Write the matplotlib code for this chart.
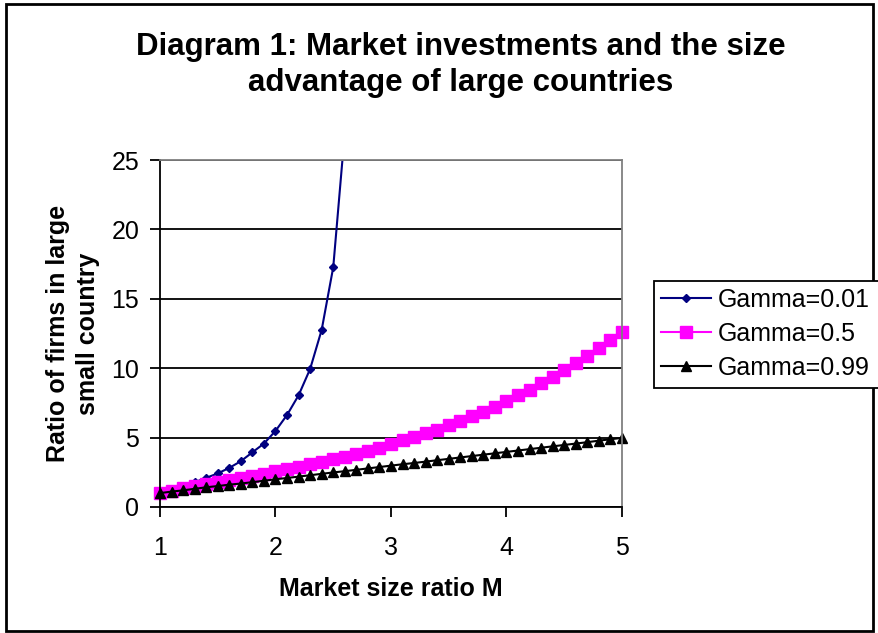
import matplotlib.pyplot as plt
from matplotlib.patches import Rectangle

plt.rcParams['font.family'] = ['Liberation Sans', 'DejaVu Sans']

# Datos
ratio_m = [1.0, 1.1, 1.2, 1.3, 1.4, 1.5, 1.6, 1.7, 1.8, 1.9,
           2.0, 2.1, 2.2, 2.3, 2.4, 2.5, 2.6, 2.7, 2.8, 2.9,
           3.0, 3.1, 3.2, 3.3, 3.4, 3.5, 3.6, 3.7, 3.8, 3.9,
           4.0, 4.1, 4.2, 4.3, 4.4, 4.5, 4.6, 4.7, 4.8, 4.9, 5.0]

gamma_001 = [1.0, 1.17, 1.5, 1.78, 2.1, 2.42, 2.82, 3.3, 3.94, 4.57,
             5.48, 6.63, 8.05, 9.95, 12.77, 17.28, 27.0]

gamma_05 = [1.0, 1.18, 1.35, 1.5, 1.65, 1.8, 1.95, 2.1, 2.25, 2.4,
            2.57, 2.73, 2.9, 3.07, 3.25, 3.43, 3.62, 3.82, 4.03, 4.27,
            4.55, 4.8, 5.03, 5.3, 5.58, 5.88, 6.2, 6.53, 6.88, 7.24,
            7.63, 8.04, 8.46, 8.9, 9.36, 9.85, 10.35, 10.88, 11.45, 12.05, 12.6]

gamma_099 = [1.0, 1.11, 1.2, 1.31, 1.42, 1.51, 1.61, 1.69, 1.79, 1.89,
             2.0, 2.09, 2.19, 2.29, 2.39, 2.49, 2.58, 2.68, 2.78, 2.88,
             2.98, 3.08, 3.17, 3.27, 3.37, 3.47, 3.57, 3.67, 3.77, 3.87,
             3.97, 4.07, 4.17, 4.27, 4.37, 4.47, 4.57, 4.67, 4.78, 4.88, 4.98]

etiquetas = ['Gamma=0.01', 'Gamma=0.5', 'Gamma=0.99']

fig = plt.figure(figsize=(8.79, 6.33), dpi=100)
ax = fig.add_axes([160 / 879, 1 - 507 / 633, 462 / 879, 347 / 633])

n = len(gamma_001)
ax.plot(ratio_m[:n], gamma_001, color='#000080', lw=1.5, marker='D', ms=4.5,
        label=etiquetas[0], clip_on=True)
ax.plot(ratio_m, gamma_05, color='#FF00FF', lw=1.5, marker='s', ms=8,
        label=etiquetas[1], clip_on=False)
ax.plot(ratio_m, gamma_099, color='black', lw=1.5, marker='^', ms=6.5,
        label=etiquetas[2], clip_on=False)

ax.set_xlim(1, 5)
ax.set_ylim(0, 25)
ax.set_xticks([1, 2, 3, 4, 5])
ax.set_yticks([0, 5, 10, 15, 20, 25])
ax.grid(axis='y', color='black', lw=1.3)
ax.set_axisbelow(True)

for lado in ['top', 'right']:
    ax.spines[lado].set_color('#808080')
    ax.spines[lado].set_linewidth(1.3)
for lado in ['left', 'bottom']:
    ax.spines[lado].set_color('black')
    ax.spines[lado].set_linewidth(1.3)

ax.tick_params(axis='both', direction='out', length=7, width=1.3, labelsize=18, pad=8)
ax.tick_params(axis='x', pad=14)

ax.set_xlabel('Market size ratio M', fontsize=18, fontweight='bold', labelpad=12)
ax.set_ylabel('Ratio of firms in large\nsmall country', fontsize=18,
              fontweight='bold', labelpad=8, linespacing=1.35)

fig.text(461 / 879, 1 - 65 / 633, 'Diagram 1: Market investments and the size\nadvantage of large countries',
         ha='center', va='center', fontsize=22.5, fontweight='bold', linespacing=1.3)

leg = ax.legend(loc='center left', bbox_to_anchor=(654 / 879, 1 - 391 / 633, 236 / 879, 114 / 633),
                bbox_transform=fig.transFigure, fontsize=18, frameon=True, fancybox=False,
                edgecolor='black', borderpad=0.3, labelspacing=0.4, handlelength=2.0,
                handletextpad=0.25, borderaxespad=0, mode='expand', framealpha=1)
leg.get_frame().set_linewidth(1.3)

# Borde exterior del grafico
fig.patches.append(Rectangle((6 / 879, 2 / 633), 867 / 879, 627 / 633, transform=fig.transFigure,
                             fill=False, edgecolor='black', lw=2, zorder=-1))

plt.savefig('out.png', dpi=100)
